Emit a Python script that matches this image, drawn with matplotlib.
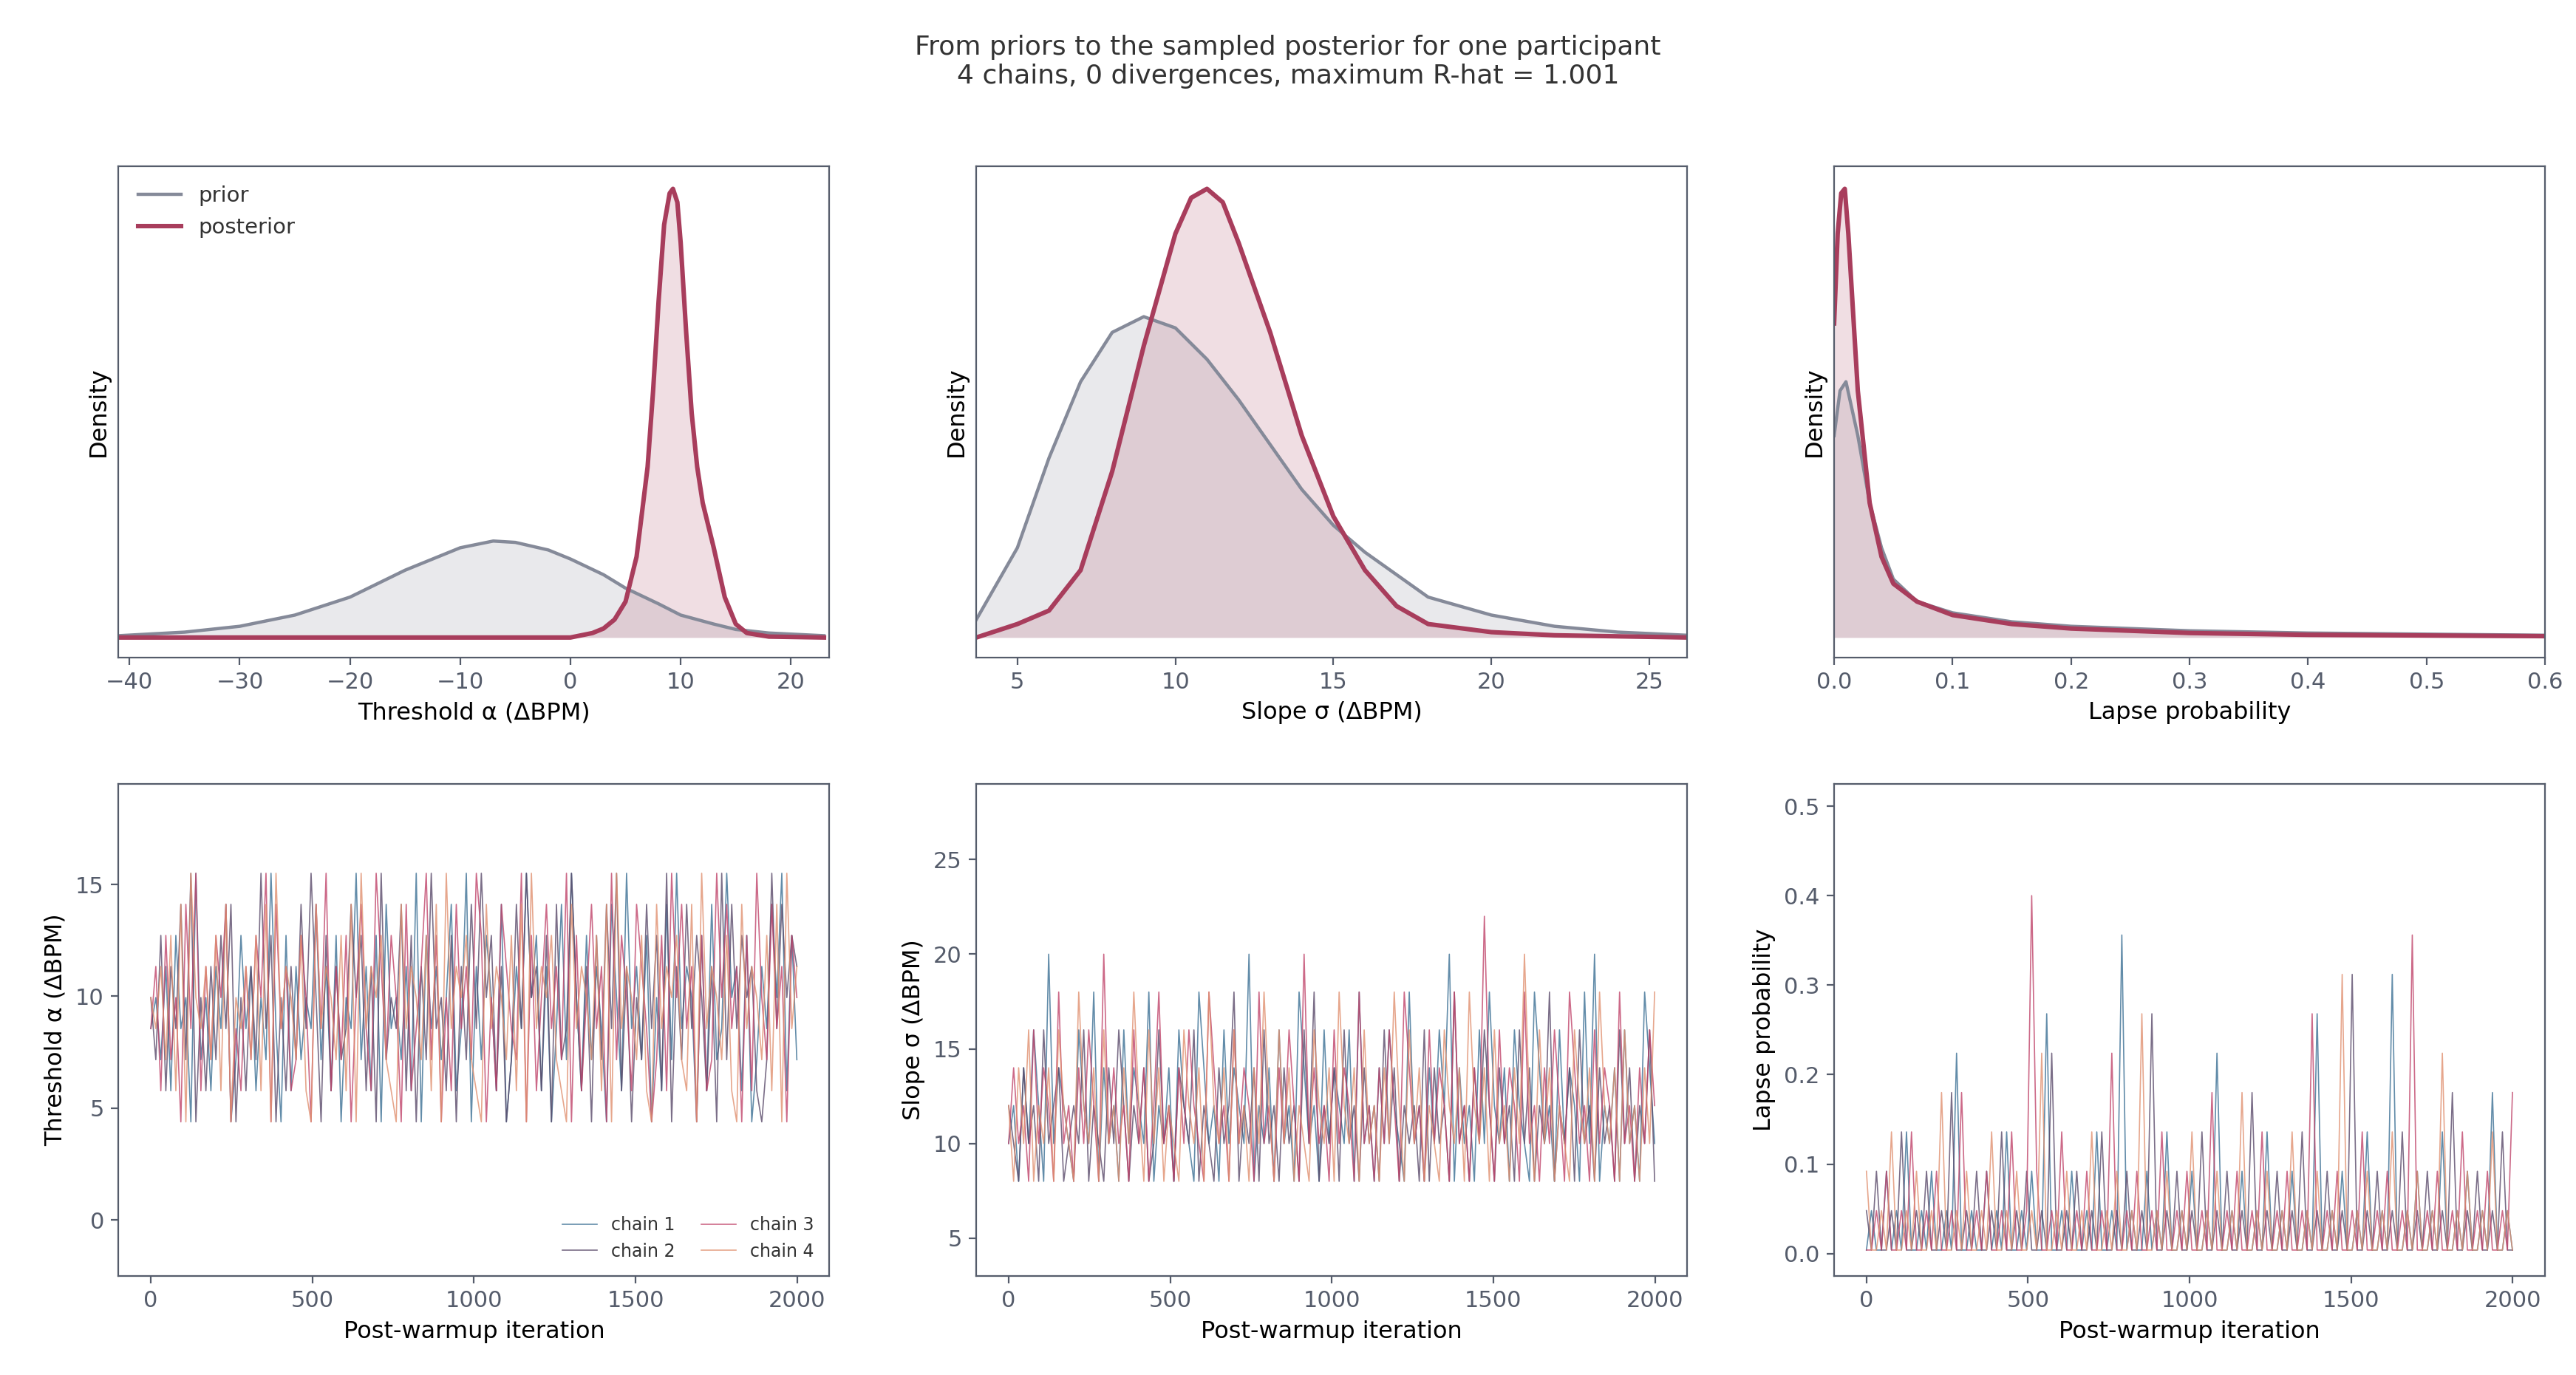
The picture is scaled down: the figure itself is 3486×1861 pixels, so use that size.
import matplotlib
matplotlib.use("Agg")
import matplotlib.pyplot as plt
import numpy as np

# ---- data ----
ALPHA_PRIOR_X = [-41, -35, -30, -25, -20, -15, -10, -7, -5, -2, 0, 3, 5, 8, 10, 13, 15, 18, 23]
ALPHA_PRIOR_Y = [0.004, 0.012, 0.025, 0.05, 0.09, 0.15, 0.20, 0.215, 0.212, 0.195, 0.175, 0.14, 0.11, 0.075, 0.05, 0.03, 0.018, 0.01, 0.004]
ALPHA_POST_X = [-41, 0, 2, 3, 4, 5, 6, 7, 7.5, 8, 8.5, 9, 9.3, 9.7, 10, 10.5, 11, 11.5, 12, 13, 14, 15, 16, 18, 23]
ALPHA_POST_Y = [0, 0, 0.01, 0.02, 0.04, 0.08, 0.18, 0.38, 0.55, 0.75, 0.92, 0.99, 1.0, 0.97, 0.88, 0.68, 0.5, 0.38, 0.3, 0.2, 0.09, 0.03, 0.01, 0.002, 0]

SLOPE_PRIOR_X = [3.7, 5, 6, 7, 8, 9, 10, 11, 12, 13, 14, 15, 16, 17, 18, 20, 22, 24, 26.2]
SLOPE_PRIOR_Y = [0.04, 0.2, 0.4, 0.57, 0.68, 0.715, 0.69, 0.62, 0.53, 0.43, 0.33, 0.25, 0.19, 0.14, 0.09, 0.05, 0.025, 0.012, 0.005]
SLOPE_POST_X = [3.7, 5, 6, 7, 8, 9, 10, 10.5, 11, 11.5, 12, 13, 14, 15, 16, 17, 18, 20, 22, 26.2]
SLOPE_POST_Y = [0.0, 0.03, 0.06, 0.15, 0.37, 0.65, 0.9, 0.98, 1.0, 0.97, 0.88, 0.68, 0.45, 0.27, 0.15, 0.07, 0.03, 0.012, 0.005, 0.0]

LAPSE_PRIOR_X = [0, 0.005, 0.01, 0.02, 0.03, 0.04, 0.05, 0.07, 0.1, 0.15, 0.2, 0.3, 0.4, 0.6]
LAPSE_PRIOR_Y = [0.45, 0.55, 0.57, 0.45, 0.3, 0.2, 0.13, 0.08, 0.055, 0.035, 0.025, 0.015, 0.01, 0.005]
LAPSE_POST_X = [0, 0.003, 0.006, 0.009, 0.012, 0.02, 0.03, 0.04, 0.05, 0.07, 0.1, 0.15, 0.2, 0.3, 0.4, 0.6]
LAPSE_POST_Y = [0.7, 0.9, 0.99, 1.0, 0.9, 0.55, 0.3, 0.18, 0.12, 0.08, 0.05, 0.03, 0.02, 0.01, 0.006, 0.003]

# traces: one digit per sampled step, mapped onto each parameter's range
ALPHA_TRACES = [
    "4536274519352648137462539417263548362715493627184536291746358249163752813649572614839527364185294637152839465172834956271364859273",
    "5372648391526374815263947152638495172634857261935482716394527163849572613849562718349526173849261538472916384752619384756213948576",
    "4627351849263758142637591846237518492637158429637518246937152846397152864391725846391725846193752864137295846172395846172953846175",
    "5463728195463728154637281946537218465372819465732184653728194657321846537281946573218465372819465372184657328194653721846537281946",
]
SLOPE_TRACES = [
    "2314253172432153261423152432613241532164231524327132415231642315243251623142532162314253714231526324153216423152431627132415231642",
    "3214231523412325132142531324125231432513214236132415231423152613241523142315241323151423162314253142315241326132415231423152413251",
    "2423152431623142531724231524136231425321642315243162314253172423152431623142531642315243162314283152431623142531642315243162314253",
    "3142513241532163241523142631524132153241632415231426315241321532416324152314263152413215324163241523142731524132153241632415231426",
]
LAPSE_TRACES = [
    "0100201030010200105001002010300102006001020010300108010020103001020010500102001030010200106001020010300107001020010300102001040010",
    "1020010300102001040010200103001020010500102001030010200106001020010300102001040010200103001020010700102001030010200104001020010300",
    "0010200103001020010400102001030019200103001020010500102001030010200104001020010300102001060010200103001020010800102001030010200104",
    "2001030010200104001020010300102001050010200103001020010600102001030010200104001020010300102001070010200103001020010500102001030010",
]
TRACE_RANGES = [(3.0, 15.5), (6.0, 24.0), (0.004, 0.40)]
N_ITER = 2000

PRIOR_C = "#858a99"
POST_C = "#a83d5c"
CHAIN_C = ["#3b6f94", "#5a4a6a", "#c0446a", "#e09070"]
SPINE_C = "#555c6b"

plt.rcParams.update({"font.family": "DejaVu Sans", "font.size": 11})
fig = plt.figure(figsize=(17.43, 9.305), dpi=200)
lefts = [0.046, 0.379, 0.712]
W = 0.276

density = [
    (ALPHA_PRIOR_X, ALPHA_PRIOR_Y, ALPHA_POST_X, ALPHA_POST_Y, (-41, 23.5), "Threshold α (ΔBPM)", [-40, -30, -20, -10, 0, 10, 20]),
    (SLOPE_PRIOR_X, SLOPE_PRIOR_Y, SLOPE_POST_X, SLOPE_POST_Y, (3.7, 26.2), "Slope σ (ΔBPM)", [5, 10, 15, 20, 25]),
    (LAPSE_PRIOR_X, LAPSE_PRIOR_Y, LAPSE_POST_X, LAPSE_POST_Y, (0, 0.6), "Lapse probability", [0, 0.1, 0.2, 0.3, 0.4, 0.5, 0.6]),
]
trace_sets = [ALPHA_TRACES, SLOPE_TRACES, LAPSE_TRACES]
trace_labels = ["Threshold α (ΔBPM)", "Slope σ (ΔBPM)", "Lapse probability"]
trace_ylims = [(-2.5, 19.5), (3, 29), (-0.025, 0.525)]
trace_ticks = [[0, 5, 10, 15], [5, 10, 15, 20, 25], [0, 0.1, 0.2, 0.3, 0.4, 0.5]]


def style(ax):
    for s in ax.spines.values():
        s.set_color(SPINE_C)
    ax.tick_params(colors=SPINE_C, labelcolor="#555c6b", labelsize=11)


for i, (px, py, qx, qy, xl, lab, xt) in enumerate(density):
    ax = fig.add_axes([lefts[i], 0.522, W, 0.357])
    ax.fill_between(px, py, color=PRIOR_C, alpha=0.18, lw=0)
    ax.plot(px, py, color=PRIOR_C, lw=1.6, label="prior")
    ax.fill_between(qx, qy, color=POST_C, alpha=0.17, lw=0)
    ax.plot(qx, qy, color=POST_C, lw=2.2, label="posterior")
    ax.set_xlim(*xl)
    ax.set_ylim(-0.044, 1.05)
    ax.set_xticks(xt)
    if i == 2:
        ax.set_xticklabels(["0.0", "0.1", "0.2", "0.3", "0.4", "0.5", "0.6"])
    ax.set_yticks([])
    ax.set_xlabel(lab, fontsize=11.5)
    ax.set_ylabel("Density", fontsize=11.5)
    style(ax)
    if i == 0:
        ax.legend(loc="upper left", frameon=False, fontsize=10.5, labelcolor="#333333")

for i, traces in enumerate(trace_sets):
    ax = fig.add_axes([lefts[i], 0.072, W, 0.358])
    lo, hi = TRACE_RANGES[i]
    for c, s in enumerate(traces):
        vals = np.array([int(ch) for ch in s], dtype=float)
        vals = lo + vals / 9 * (hi - lo)
        it = np.linspace(0, N_ITER - 1, len(vals))
        ax.plot(it, vals, color=CHAIN_C[c], lw=0.6, alpha=0.8, label=f"chain {c + 1}")
    ax.set_xlim(-100, 2100)
    ax.set_ylim(*trace_ylims[i])
    ax.set_yticks(trace_ticks[i])
    ax.set_xticks([0, 500, 1000, 1500, 2000])
    ax.set_xlabel("Post-warmup iteration", fontsize=11.5)
    ax.set_ylabel(trace_labels[i], fontsize=11.5)
    style(ax)
    if i == 0:
        ax.legend(loc="lower right", ncol=2, frameon=False, fontsize=8.5,
                  labelcolor="#333333", handlelength=2.0, columnspacing=1.5)

fig.text(0.5, 0.955, "From priors to the sampled posterior for one participant\n"
         "4 chains, 0 divergences, maximum R-hat = 1.001",
         ha="center", va="center", fontsize=13, color="#333333")

fig.savefig("out.png", dpi=200)
